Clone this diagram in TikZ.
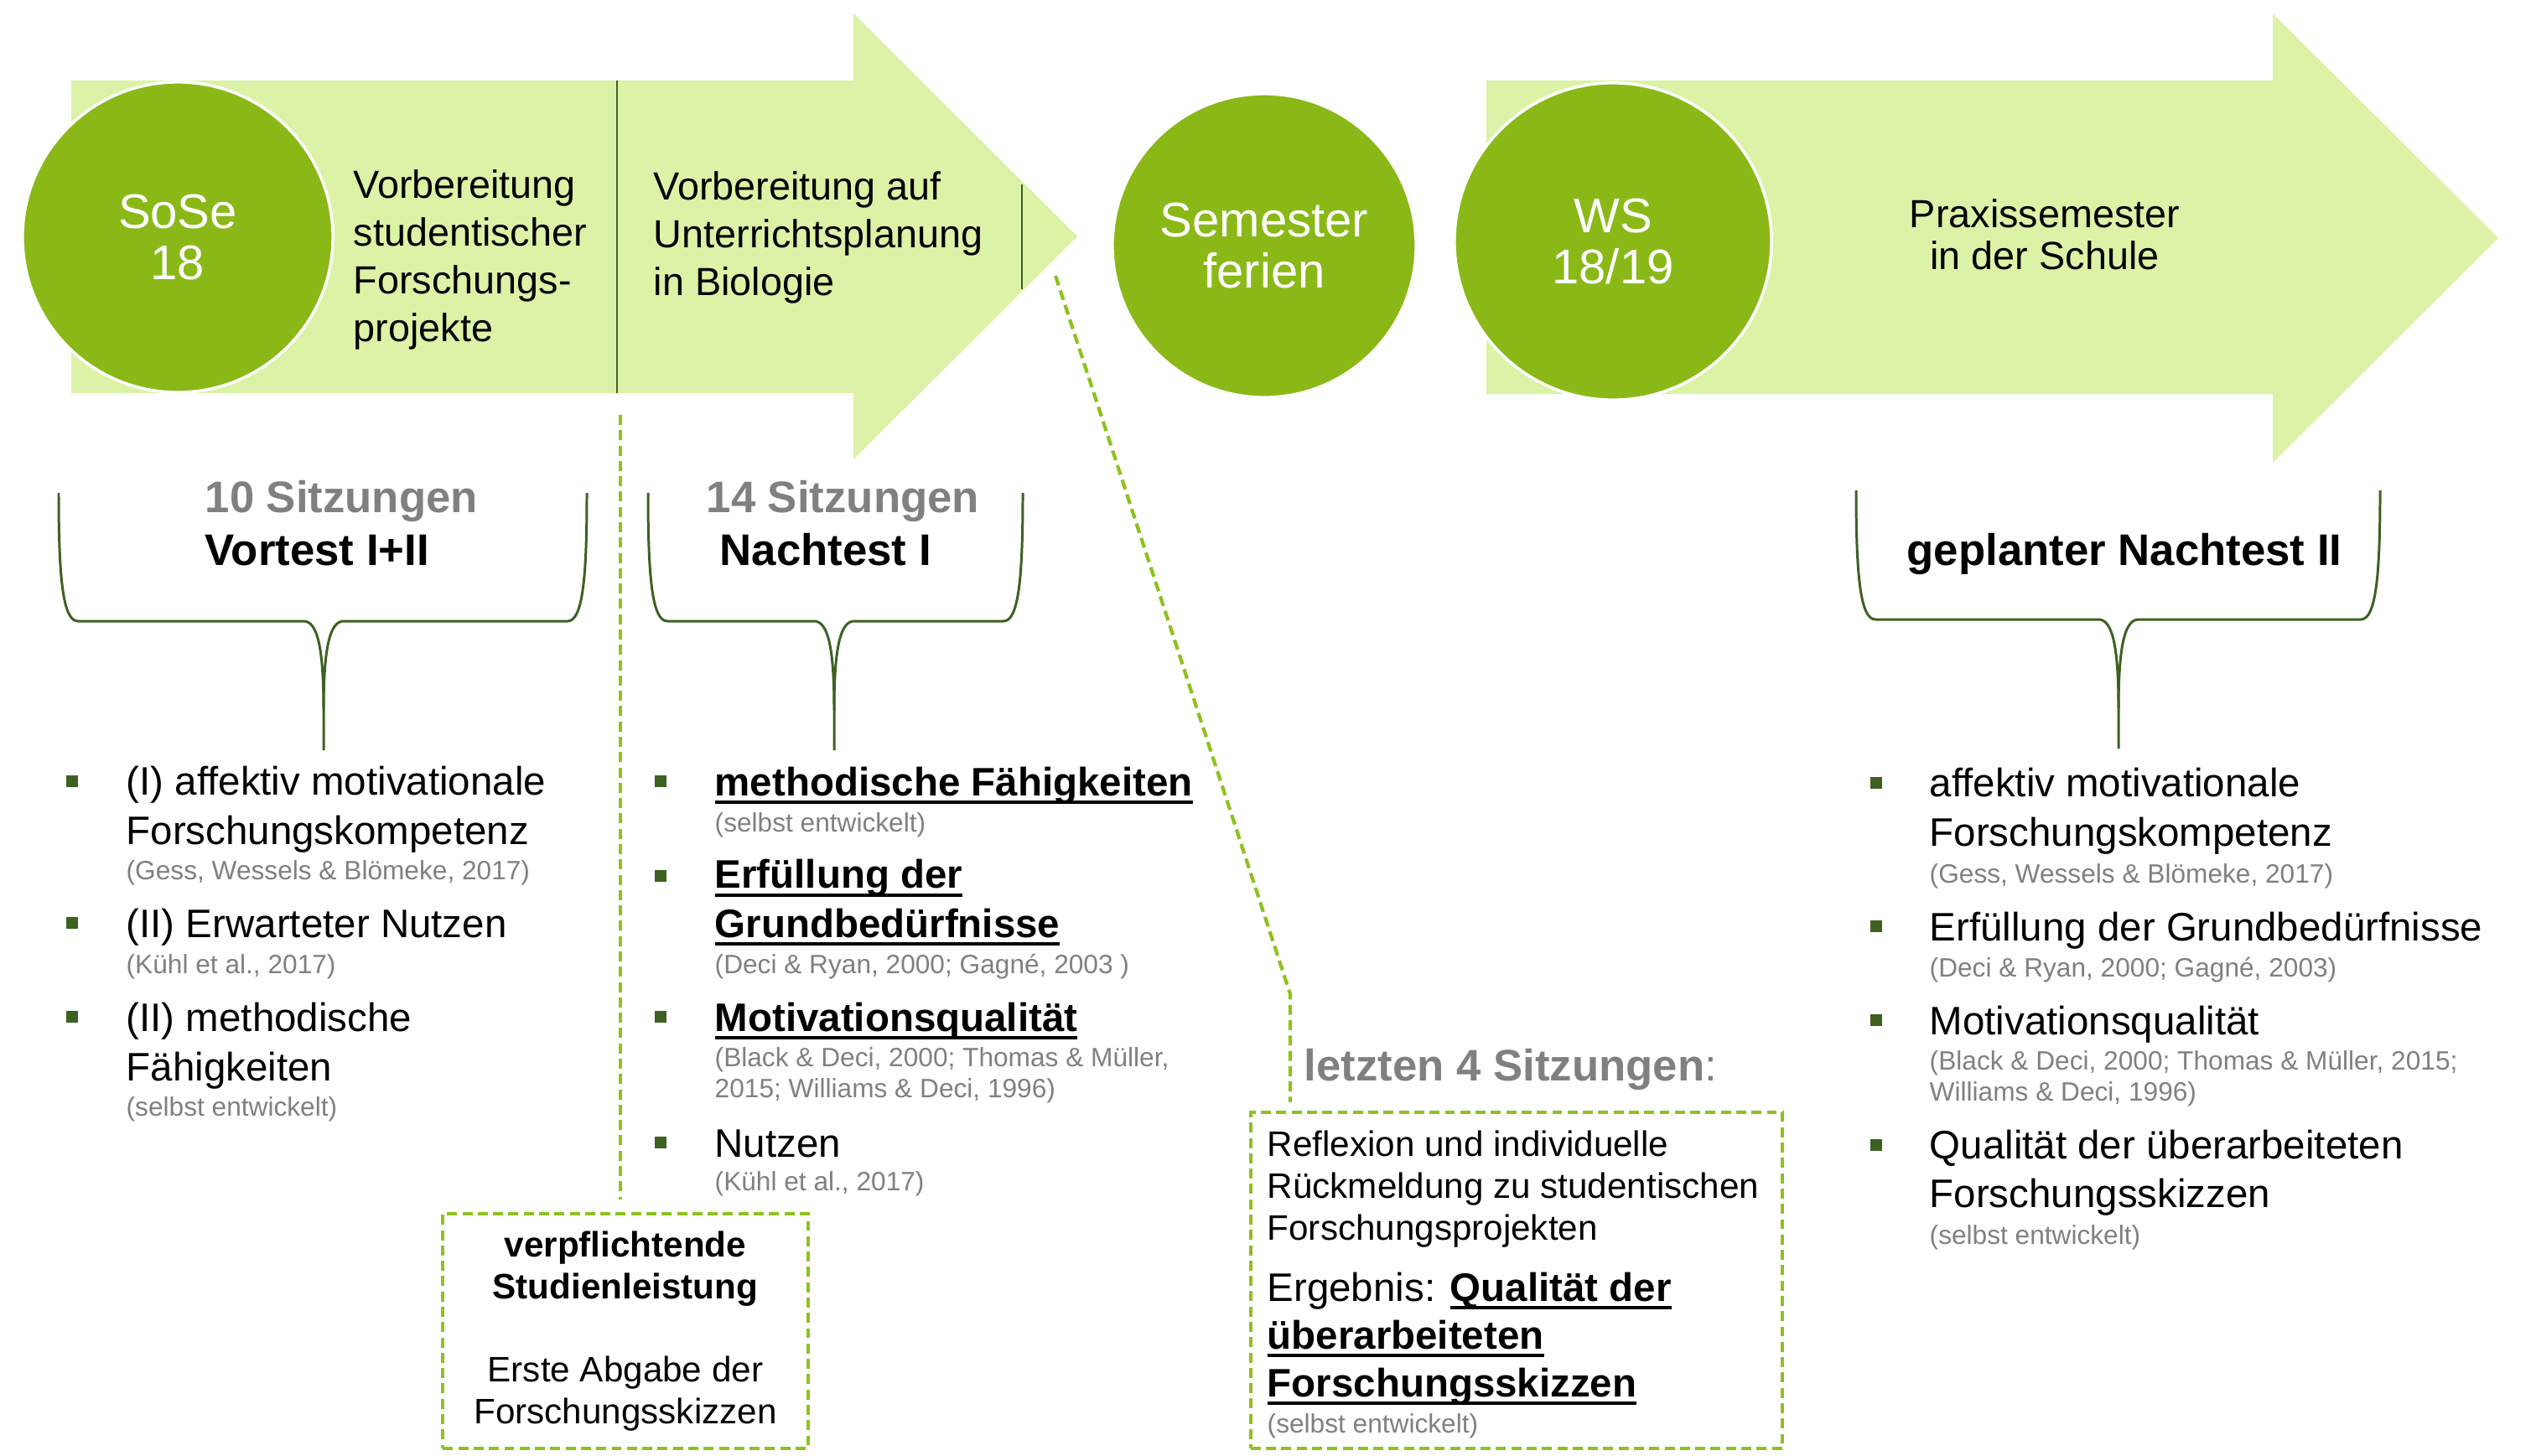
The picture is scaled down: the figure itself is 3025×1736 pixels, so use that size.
\documentclass[tikz,border=0pt]{standalone}
\usepackage{fontspec}
\setmainfont{Liberation Sans}
\usepackage{tikz}

\definecolor{pfeilgruen}{HTML}{DCF2A6}
\definecolor{kreisgruen}{HTML}{8AB917}
\definecolor{dunkelgruen}{HTML}{3D6121}
\definecolor{strichgruen}{HTML}{8DC21F}
\definecolor{textgrau}{HTML}{808080}

% dicke Unterstreichung
\newcommand{\ustrich}[1]{\leavevmode\setbox0=\hbox{#1}\rlap{\rule[-2.9pt]{\wd0}{1.2pt}}\box0}

% geschweifte Klammer: links, rechts, Mitte, oben, unten
\newcommand{\klammer}[5]{%
  \draw[klammerlinie] (#1,#4) .. controls (#1,{#4+102}) and ({#1+5},#5) .. ({#1+23},#5)
    -- ({#3-24},#5) .. controls ({#3-8},#5) and (#3,{#5+29}) .. (#3,{#5+106}) -- (#3,{#5+154});
  \draw[klammerlinie] (#3,{#5+106}) .. controls (#3,{#5+29}) and ({#3+8},#5) .. ({#3+24},#5)
    -- ({#2-23},#5) .. controls ({#2-5},#5) and (#2,{#4+102}) .. (#2,#4);
}

\begin{document}
\begin{tikzpicture}[x=0.01cm, y=-0.01cm,
  kreis/.style={circle, fill=kreisgruen, draw=white, line width=1pt, minimum size=#1,
    inner sep=0pt, text=white, align=center, font=\fontsize{16.5}{17.4}\selectfont},
  pfeiltext/.style={anchor=base west, align=left, inner sep=0pt, font=\fontsize{13.3}{16.2}\selectfont},
  kopf/.style={anchor=base west, inner sep=0pt, font=\fontsize{15}{18}\selectfont\bfseries},
  eintrag/.style={anchor=base west, align=left, inner sep=0pt, font=\fontsize{13.5}{16.5}\selectfont},
  quelle/.style={anchor=base west, align=left, inner sep=0pt, text=textgrau, font=\fontsize{9}{10.5}\selectfont},
  punkt/.style={fill=dunkelgruen, minimum size=0.14cm, inner sep=0pt},
  kasten/.style={draw=strichgruen, line width=1.2pt, dash pattern=on 3.4pt off 1.8pt},
  strich/.style={draw=strichgruen, line width=1.2pt, dash pattern=on 3.4pt off 1.8pt},
  klammerlinie/.style={draw=dunkelgruen, line width=0.85pt}]

\useasboundingbox (0,0) rectangle (3025,1736);

% Pfeile
\fill[pfeilgruen] (85,96) -- (1018,96) -- (1018,16) -- (1285,282) -- (1018,548) -- (1018,469) -- (85,469) -- cycle;
\fill[pfeilgruen] (1773,96) -- (2711,96) -- (2711,16) -- (2980,284) -- (2711,552) -- (2711,470) -- (1773,470) -- cycle;
\draw[dunkelgruen, line width=0.8pt] (736,96) -- (736,469);
\draw[dunkelgruen, line width=0.8pt] (1219,220) -- (1219,345);

% Semester
\node[kreis=3.7cm] (sose) at (212,283) {SoSe\\18};
\node[kreis=3.62cm] (ferien) at (1508,293) {Semester\\ferien};
\node[kreis=3.78cm] (ws) at (1924,288) {WS\\18/19};

% (base = Grundlinie der letzten Zeile)
\node[pfeiltext] (vorb1) at (421,407) {Vorbereitung\\studentischer\\Forschungs-\\projekte};
\node[pfeiltext] (vorb2) at (779,352) {Vorbereitung auf\\Unterrichtsplanung\\in Biologie};
\node[anchor=base, align=center, inner sep=0pt, font=\fontsize{13.3}{14.2}\selectfont] (praxis) at (2439,321) {Praxissemester\\in der Schule};

% Klammern
\klammer{70}{700}{386}{588}{741}
\klammer{773}{1220}{995}{588}{741}
\klammer{2214}{2839}{2527}{585}{739}

\node[kopf, text=textgrau] (sitz10) at (244,611) {10 Sitzungen};
\node[kopf] (vortest) at (244,674) {Vortest I+II};
\node[kopf, text=textgrau] (sitz14) at (842,611) {14 Sitzungen};
\node[kopf] (nachtest1) at (858,674) {Nachtest I};
\node[kopf] (nachtest2) at (2274,674) {geplanter Nachtest II};

% Liste Vortest
\node[punkt] (pa1) at (86,932) {};
\node[eintrag] (va1) at (150,1007) {(I) affektiv motivationale\\Forschungskompetenz};
\node[quelle] (qa1) at (150,1049) {(Gess, Wessels \& Blömeke, 2017)};
\node[punkt] (pa2) at (86,1101) {};
\node[eintrag] (va2) at (150,1118) {(II) Erwarteter Nutzen};
\node[quelle] (qa2) at (150,1161) {(Kühl et al., 2017)};
\node[punkt] (pa3) at (86,1213) {};
\node[eintrag] (va3) at (150,1289) {(II) methodische\\Fähigkeiten};
\node[quelle] (qa3) at (150,1331) {(selbst entwickelt)};

% Liste Nachtest I
\node[punkt] (pb1) at (788,932) {};
\node[eintrag] (nb1) at (852,949) {\ustrich{\textbf{methodische Fähigkeiten}}};
\node[quelle] (qb1) at (852,992) {(selbst entwickelt)};
\node[punkt] (pb2) at (788,1045) {};
\node[eintrag] (nb2) at (852,1118) {\ustrich{\textbf{Erfüllung der}}\\\ustrich{\textbf{Grundbedürfnisse}}};
\node[quelle] (qb2) at (852,1161) {(Deci \& Ryan, 2000; Gagné, 2003 )};
\node[punkt] (pb3) at (788,1213) {};
\node[eintrag] (nb3) at (852,1230) {\ustrich{\textbf{Motivationsqualität}}};
\node[quelle] (qb3) at (852,1309) {(Black \& Deci, 2000; Thomas \& Müller,\\2015; Williams \& Deci, 1996)};
\node[punkt] (pb4) at (788,1363) {};
\node[eintrag] (nb4) at (852,1380) {Nutzen};
\node[quelle] (qb4) at (852,1420) {(Kühl et al., 2017)};

% Liste Nachtest II
\node[punkt] (pc1) at (2238,934) {};
\node[eintrag] (nc1) at (2301,1009) {affektiv motivationale\\Forschungskompetenz};
\node[quelle] (qc1) at (2301,1053) {(Gess, Wessels \& Blömeke, 2017)};
\node[punkt] (pc2) at (2238,1105) {};
\node[eintrag] (nc2) at (2301,1122) {Erfüllung der Grundbedürfnisse};
\node[quelle] (qc2) at (2301,1165) {(Deci \& Ryan, 2000; Gagné, 2003)};
\node[punkt] (pc3) at (2238,1217) {};
\node[eintrag] (nc3) at (2301,1234) {Motivationsqualität};
\node[quelle] (qc3) at (2301,1313) {(Black \& Deci, 2000; Thomas \& Müller, 2015;\\Williams \& Deci, 1996)};
\node[punkt] (pc4) at (2238,1366) {};
\node[eintrag] (nc4) at (2301,1440) {Qualität der überarbeiteten\\Forschungsskizzen};
\node[quelle] (qc4) at (2301,1484) {(selbst entwickelt)};

% Kaesten
\node[kasten, minimum width=4.35cm, minimum height=2.8cm, align=center, font=\fontsize{12}{14.2}\selectfont] (pflicht) at (746,1588)
  {\textbf{verpflichtende}\\\textbf{Studienleistung}\\[14.2pt]Erste Abgabe der\\Forschungsskizzen};
\node[kasten, minimum width=6.34cm, minimum height=4.01cm] (reflex) at (1809,1527.5) {};
\node[kopf, text=textgrau] (letzte) at (1555,1289) {letzten 4 Sitzungen\mdseries:};
\node[anchor=base west, align=left, inner sep=0pt, font=\fontsize{12}{14.2}\selectfont] (rueck) at (1511,1479)
  {Reflexion und individuelle\\Rückmeldung zu studentischen\\Forschungsprojekten};
\node[eintrag, font=\fontsize{13.5}{16.2}\selectfont] (ergebnis) at (1511,1666)
  {Ergebnis: \ustrich{\textbf{Qualität der}}\\\ustrich{\textbf{überarbeiteten}}\\\ustrich{\textbf{Forschungsskizzen}}};
\node[quelle] (qd) at (1511,1709) {(selbst entwickelt)};

% gestrichelte Verbindungen
\coordinate (abzweigA) at (740,495);
\coordinate (abzweigB) at (1259,329);
\coordinate (knick) at (1539,1186);
\draw[strich, shorten >=0.15cm] (abzweigA) -- (abzweigA |- pflicht.north);
\draw[strich, shorten >=0.1cm] (abzweigB) -- (knick) -- (knick |- reflex.north);

\end{tikzpicture}
\end{document}
